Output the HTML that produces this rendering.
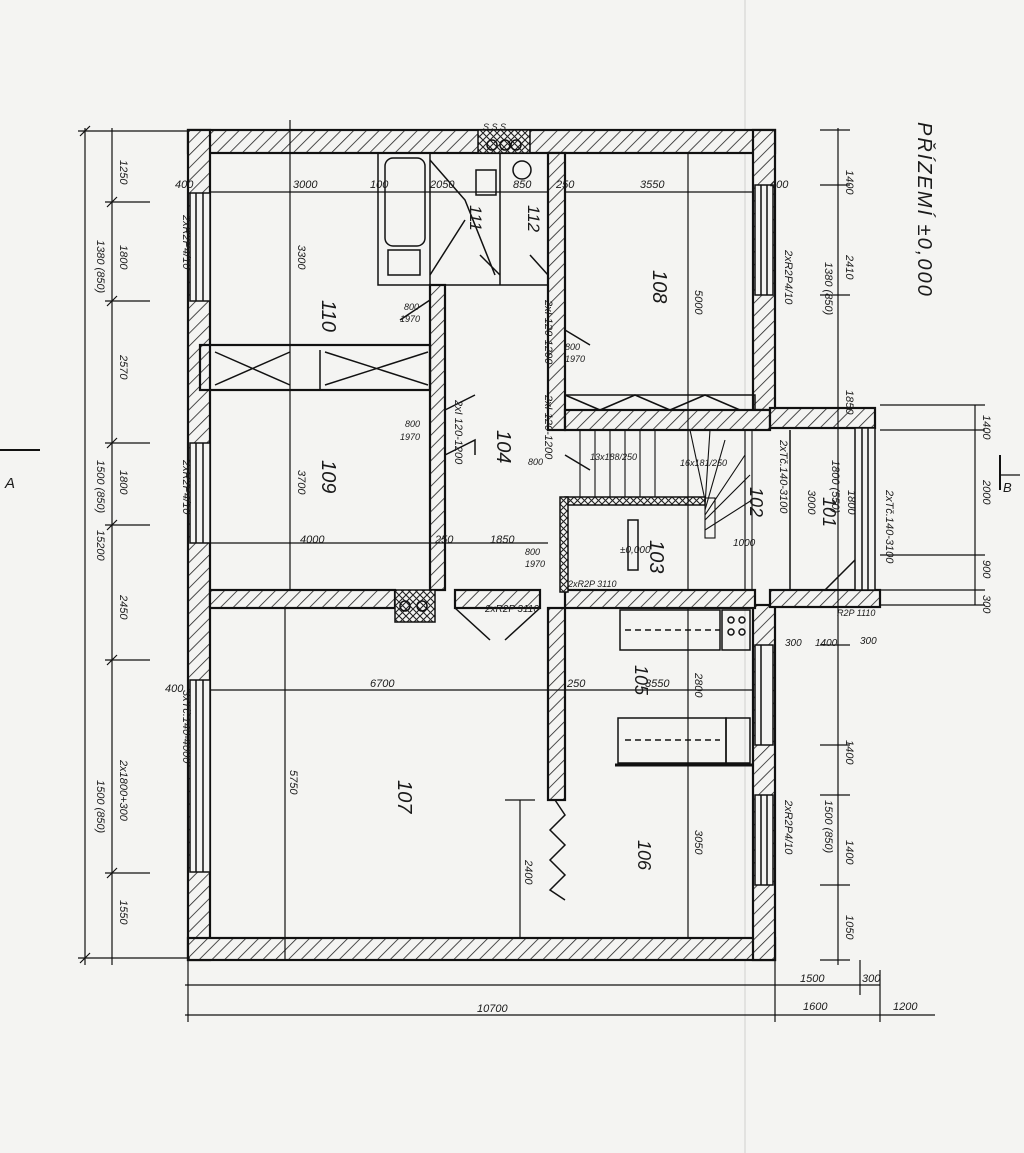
<!DOCTYPE html>
<html><head><meta charset="utf-8"><style>
html,body{margin:0;padding:0;background:#f4f4f2;}
svg{display:block}
text{font-family:"Liberation Sans",sans-serif;font-style:italic;fill:#1a1a1a;}
</style></head><body>
<svg width="1024" height="1153" viewBox="0 0 1024 1153" xmlns="http://www.w3.org/2000/svg">
<defs>
<pattern id="h" width="9" height="9" patternUnits="userSpaceOnUse" patternTransform="rotate(45)">
<rect width="9" height="9" fill="#f4f4f2"/><line x1="0" y1="0" x2="0" y2="9" stroke="#222" stroke-width="1.6"/></pattern>
<pattern id="x" width="7" height="7" patternUnits="userSpaceOnUse">
<rect width="7" height="7" fill="#f4f4f2"/><path d="M0 0L7 7M7 0L0 7" stroke="#222" stroke-width="1.1"/></pattern>
</defs>
<rect width="1024" height="1153" fill="#f4f4f2"/>
<line x1="745" y1="0" x2="745" y2="1153" stroke="#e2e2e0" stroke-width="2"/>
<g stroke="#111" stroke-width="2.2" fill="url(#h)">
<rect x="188" y="130" width="587" height="23"/>
<rect x="188" y="130" width="22" height="830"/>
<rect x="188" y="938" width="587" height="22"/>
<rect x="753" y="130" width="22" height="280"/>
<rect x="753" y="605" width="22" height="355"/>
<rect x="210" y="590" width="185" height="18"/>
<rect x="455" y="590" width="85" height="18"/>
<rect x="565" y="590" width="190" height="18"/>
<rect x="430" y="285" width="15" height="305"/>
<rect x="548" y="153" width="17" height="277"/>
<rect x="565" y="410" width="205" height="20"/>
<rect x="548" y="608" width="17" height="192"/>
<rect x="770" y="408" width="105" height="20"/>
<rect x="770" y="590" width="110" height="17"/>
<rect x="200" y="345" width="230" height="45" fill="none"/>
</g>
<g stroke="#111" stroke-width="1.5" fill="#f4f4f2">
<rect x="190" y="193" width="20" height="108"/><line x1="196" y1="193" x2="196" y2="301"/><line x1="203" y1="193" x2="203" y2="301"/>
<rect x="190" y="443" width="20" height="100"/><line x1="196" y1="443" x2="196" y2="543"/><line x1="203" y1="443" x2="203" y2="543"/>
<rect x="190" y="680" width="20" height="192"/><line x1="196" y1="680" x2="196" y2="872"/><line x1="203" y1="680" x2="203" y2="872"/>
<rect x="755" y="185" width="18" height="110"/><line x1="761" y1="185" x2="761" y2="295"/><line x1="767" y1="185" x2="767" y2="295"/>
<rect x="755" y="645" width="18" height="100"/><line x1="761" y1="645" x2="761" y2="745"/>
<rect x="755" y="795" width="18" height="90"/><line x1="761" y1="795" x2="761" y2="885"/><line x1="767" y1="795" x2="767" y2="885"/>
<rect x="855" y="428" width="20" height="162"/><line x1="862" y1="428" x2="862" y2="590"/><line x1="868" y1="428" x2="868" y2="590"/>
</g>
<g stroke="#111" stroke-width="1.5" fill="none">
<rect x="378" y="153" width="52" height="132"/>
<rect x="385" y="158" width="40" height="88" rx="8"/>
<rect x="388" y="250" width="32" height="25"/>
<line x1="430" y1="285" x2="548" y2="285"/>
<line x1="500" y1="153" x2="500" y2="285"/>
<rect x="476" y="170" width="20" height="25"/>
<circle cx="522" cy="170" r="9"/>
<path d="M430 160L465 200L495 275M430 275L465 220"/>
<path d="M215 352L290 385M215 385L290 352M325 352L428 385M325 385L428 352"/>
<line x1="320" y1="350" x2="320" y2="390"/>
<rect x="565" y="395" width="190" height="15"/>
<path d="M565 395L600 410L635 395L670 410L705 395L740 410"/>
<g stroke-width="1.1">
<line x1="580" y1="430" x2="580" y2="500"/><line x1="595" y1="430" x2="595" y2="500"/><line x1="610" y1="430" x2="610" y2="500"/><line x1="625" y1="430" x2="625" y2="500"/><line x1="640" y1="430" x2="640" y2="500"/><line x1="655" y1="430" x2="655" y2="500"/>
<path d="M705 500L690 430M705 505L710 430M705 510L725 440M705 515L745 455M705 520L750 475M705 530L752 500"/>
<rect x="705" y="498" width="10" height="40"/>
<line x1="752" y1="430" x2="752" y2="590"/><line x1="745" y1="430" x2="745" y2="590"/>
</g>
<rect x="565" y="497" width="140" height="8" fill="url(#x)"/>
<rect x="560" y="497" width="8" height="95" fill="url(#x)"/>
<rect x="628" y="520" width="10" height="50"/>
<line x1="790" y1="430" x2="790" y2="590"/>
<path d="M855 560L825 590L855 590"/>
<rect x="395" y="590" width="40" height="32" fill="url(#x)"/>
<circle cx="405" cy="606" r="5"/><circle cx="422" cy="606" r="5"/>
<rect x="478" y="130" width="52" height="23" fill="url(#x)"/>
<circle cx="492" cy="145" r="5"/><circle cx="505" cy="145" r="5"/><circle cx="516" cy="145" r="5"/>
<path d="M445 455L475 440L475 455M445 410L475 395M455 608L490 640M540 608L505 640M565 330L590 345M565 455L590 470M430 300L400 320M500 275L480 255M548 275L530 255"/>
<rect x="620" y="610" width="100" height="40"/><rect x="722" y="610" width="28" height="40"/>
<circle cx="731" cy="620" r="3"/><circle cx="742" cy="620" r="3"/><circle cx="731" cy="632" r="3"/><circle cx="742" cy="632" r="3"/>
<rect x="618" y="718" width="108" height="45"/><rect x="726" y="718" width="24" height="45"/>
<line x1="615" y1="765" x2="752" y2="765" stroke-width="3"/>
<line x1="625" y1="740" x2="720" y2="740" stroke-dasharray="6,4"/>
<line x1="625" y1="630" x2="720" y2="630" stroke-dasharray="6,4"/>
<path d="M555 800L565 815L550 830L565 845L550 860L565 875L550 890L565 900"/>
</g>
<g stroke="#111" stroke-width="1.2" fill="none">
<line x1="85" y1="128" x2="85" y2="965"/>
<line x1="112" y1="128" x2="112" y2="965"/>
<path d="M78 131H190M78 958H190M105 202H150M105 301H150M105 443H150M105 525H150M105 660H150M105 873H150M105 958H150"/>
<path d="M80 136L90 126M80 963L90 953M107 207L117 197M107 306L117 296M107 448L117 438M107 530L117 520M107 665L117 655M107 878L117 868"/>
<line x1="185" y1="985" x2="880" y2="985"/>
<line x1="185" y1="1015" x2="935" y2="1015"/>
<path d="M188 960V1022M775 960V1022M880 970V1022M860 960V995"/>
<line x1="838" y1="128" x2="838" y2="965"/>
<path d="M820 130H850M820 185H850M820 295H850M820 408H850M820 645H850M820 745H850M820 795H850M820 885H850M820 960H850"/>
<line x1="975" y1="405" x2="975" y2="605"/>
<path d="M880 405H985M880 430H985M880 555H985M880 590H985M880 605H985"/>
<line x1="0" y1="450" x2="40" y2="450" stroke-width="2"/>
<line x1="1000" y1="455" x2="1000" y2="490" stroke-width="2"/>
<line x1="1000" y1="475" x2="1020" y2="475"/>
<line x1="210" y1="192" x2="548" y2="192"/><line x1="565" y1="192" x2="753" y2="192"/>
<line x1="290" y1="120" x2="290" y2="590"/>
<line x1="210" y1="543" x2="548" y2="543"/>
<line x1="210" y1="690" x2="753" y2="690"/>
<line x1="285" y1="608" x2="285" y2="960"/>
<line x1="688" y1="153" x2="688" y2="590"/><line x1="688" y1="608" x2="688" y2="938"/>
<path d="M520 800V938M505 800H535"/>
</g>
<g font-size="11">
<g transform="rotate(90)">
<text x="300" y="-322" font-size="20">110</text>
<text x="460" y="-322" font-size="20">109</text>
<text x="780" y="-398" font-size="20">107</text>
<text x="430" y="-497" font-size="20">104</text>
<text x="270" y="-653" font-size="20">108</text>
<text x="540" y="-650" font-size="20">103</text>
<text x="487" y="-750" font-size="18">102</text>
<text x="497" y="-823" font-size="18">101</text>
<text x="665" y="-635" font-size="18">105</text>
<text x="840" y="-638" font-size="18">106</text>
<text x="205" y="-470" font-size="17">111</text>
<text x="205" y="-528" font-size="17">112</text>
<text x="122" y="-918" font-size="20" style="letter-spacing:2px">PŘÍZEMÍ  ±0,000</text>
<text x="245" y="-298">3300</text><text x="470" y="-298">3700</text><text x="770" y="-290">5750</text>
<text x="290" y="-695">5000</text><text x="830" y="-695">3050</text><text x="673" y="-695">2800</text>
<text x="860" y="-525">2400</text>
<text x="160" y="-120">1250</text><text x="245" y="-120">1800</text><text x="355" y="-120">2570</text><text x="470" y="-120">1800</text><text x="595" y="-120">2450</text><text x="900" y="-120">1550</text>
<text x="240" y="-97">1380 (850)</text><text x="460" y="-97">1500 (850)</text><text x="530" y="-97">15200</text><text x="760" y="-120">2x1800+300</text><text x="780" y="-97">1500 (850)</text>
<text x="215" y="-183">2xR2P4/10</text><text x="460" y="-183">2xR2P4/10</text><text x="690" y="-183">3xTč.140-4000</text>
<text x="170" y="-846">1400</text><text x="255" y="-846">2410</text><text x="262" y="-825">1380 (850)</text><text x="390" y="-846">1850</text>
<text x="840" y="-846">1400</text><text x="800" y="-825">1500 (850)</text><text x="915" y="-846">1050</text><text x="740" y="-846">1400</text>
<text x="415" y="-983">1400</text><text x="480" y="-983">2000</text><text x="560" y="-983">900</text><text x="595" y="-983">300</text>
<text x="250" y="-785">2xR2P4/10</text><text x="440" y="-780">2xTč.140-3100</text><text x="490" y="-886">2xTč.140-3100</text>
<text x="300" y="-545">2xI 120-1200</text><text x="395" y="-545">2xI 120-1200</text><text x="400" y="-455">2xI 120-1200</text>
<text x="800" y="-785">2xR2P4/10</text>
<text x="460" y="-832">1800 (550)</text><text x="490" y="-808">3000</text><text x="490" y="-848">1800</text>
</g>
<text x="293" y="188">3000</text><text x="430" y="188">2050</text><text x="370" y="188">100</text><text x="513" y="188">850</text><text x="556" y="188">250</text><text x="640" y="188">3550</text><text x="175" y="188">400</text><text x="770" y="188">400</text>
<text x="300" y="543">4000</text><text x="490" y="543">1850</text><text x="435" y="543">250</text>
<text x="370" y="687">6700</text><text x="645" y="687">3550</text><text x="567" y="687">250</text><text x="165" y="692">400</text>
<text x="477" y="1012">10700</text><text x="800" y="982">1500</text><text x="862" y="982">300</text><text x="803" y="1010">1600</text><text x="893" y="1010">1200</text>
<text x="590" y="460" font-size="9">13x188/250</text><text x="680" y="466" font-size="9">16x181/250</text>
<text x="733" y="546" font-size="10">1000</text>
<text x="485" y="612" font-size="10">2xR2P 3110</text><text x="568" y="587" font-size="9">2xR2P 3110</text>
<text x="837" y="616" font-size="9">R2P 1110</text>
<text x="785" y="646" font-size="10">300</text><text x="815" y="646" font-size="10">1400</text><text x="860" y="644" font-size="10">300</text>
<text x="405" y="427" font-size="9">800</text><text x="400" y="440" font-size="9">1970</text>
<text x="565" y="350" font-size="9">800</text><text x="565" y="362" font-size="9">1970</text>
<text x="528" y="465" font-size="9">800</text><text x="525" y="555" font-size="9">800</text><text x="525" y="567" font-size="9">1970</text>
<text x="404" y="310" font-size="9">800</text><text x="400" y="322" font-size="9">1970</text>
<text x="620" y="553" font-size="10">±0,000</text>
<text x="5" y="488" font-size="15">A</text>
<text x="1003" y="492" font-size="13">B</text>
<text x="483" y="130" font-size="9">S S S</text>
</g>
</svg>
</body></html>
